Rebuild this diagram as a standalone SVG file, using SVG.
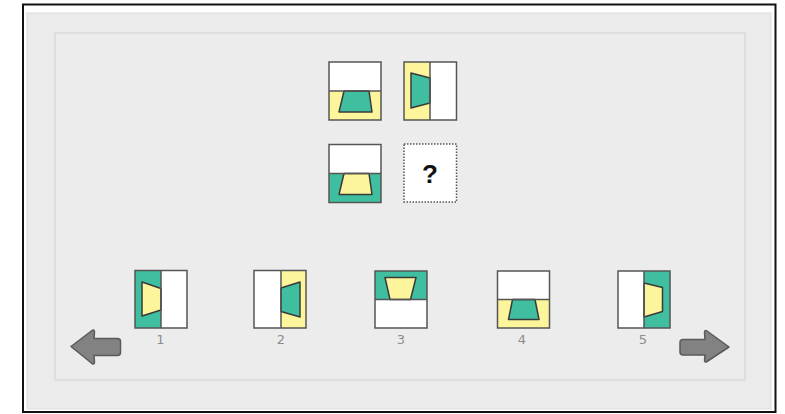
<svg xmlns="http://www.w3.org/2000/svg" width="785" height="414" viewBox="0 0 785 414">
<style>
.tile{stroke:#555;stroke-width:1.5;}
.w{fill:#ffffff;}
.t{fill:#3fbf9f;}
.y{fill:#fcf59b;}
.tz{stroke:#3a3a3a;stroke-width:1.5;stroke-linejoin:round;}
.div{stroke:#555;stroke-width:1.5;}
.lbl{font-family:"DejaVu Sans","Liberation Sans",sans-serif;font-size:13px;fill:#8c8c8c;text-anchor:middle;}
.arrow{fill:#828282;stroke:#5a5a5a;stroke-width:1.5;stroke-linejoin:round;}
</style>
<rect x="0" y="0" width="785" height="414" fill="#ffffff"/>
<rect x="23" y="4.5" width="752.5" height="407.5" fill="#ffffff" stroke="#111" stroke-width="2"/>
<rect x="27" y="13" width="744" height="396" fill="#ebebeb" stroke="#dcdcdc" stroke-width="1"/>
<rect x="55" y="33" width="690" height="347" fill="#ececec" stroke="#dadada" stroke-width="1.5"/>

<g id="q1">
<rect class="w" x="329" y="62" width="52" height="29"/>
<rect class="y" x="329" y="91" width="52" height="29"/>
<polygon class="t tz" points="344,91 369,91 372,112 339,112"/>
<line class="div" x1="329" y1="91" x2="381" y2="91"/>
<rect class="tile" x="329" y="62" width="52" height="58" fill="none"/>
</g>
<g id="q2">
<rect class="y" x="404" y="62" width="26" height="58"/>
<rect class="w" x="430" y="62" width="26.5" height="58"/>
<polygon class="t tz" points="411,73 430,78 430,103 411,108"/>
<line class="div" x1="430" y1="62" x2="430" y2="120"/>
<rect class="tile" x="404" y="62" width="52.5" height="58" fill="none"/>
</g>
<g id="q3">
<rect class="w" x="329" y="144.5" width="52" height="29"/>
<rect class="t" x="329" y="173.5" width="52" height="29"/>
<polygon class="y tz" points="344,173.5 369,173.5 372,194.5 339,194.5"/>
<line class="div" x1="329" y1="173.5" x2="381" y2="173.5"/>
<rect class="tile" x="329" y="144.5" width="52" height="58" fill="none"/>
</g>
<g id="q4">
<rect x="404" y="144" width="52.5" height="58" fill="#ffffff" stroke="#555" stroke-width="1.5" stroke-dasharray="1.5,1.5"/>
<text x="430" y="183" font-family="Liberation Sans,Arial,sans-serif" font-size="26" font-weight="bold" fill="#111" text-anchor="middle">?</text>
</g>

<g id="opt1">
<rect class="t" x="135" y="270.5" width="26" height="57.5"/>
<rect class="w" x="161" y="270.5" width="26" height="57.5"/>
<polygon class="y tz" points="142,282 161,288.5 161,310 142,316"/>
<line class="div" x1="161" y1="270.5" x2="161" y2="328"/>
<rect class="tile" x="135" y="270.5" width="52" height="57.5" fill="none"/>
<text class="lbl" x="160.5" y="344">1</text>
</g>
<g id="opt2">
<rect class="w" x="254" y="270.5" width="27" height="57.5"/>
<rect class="y" x="281" y="270.5" width="25" height="57.5"/>
<polygon class="t tz" points="281,288 300,282 300,317 281,311.5"/>
<line class="div" x1="281" y1="270.5" x2="281" y2="328"/>
<rect class="tile" x="254" y="270.5" width="52" height="57.5" fill="none"/>
<text class="lbl" x="281" y="344">2</text>
</g>
<g id="opt3">
<rect class="t" x="375" y="271" width="52" height="28.5"/>
<rect class="w" x="375" y="299.5" width="52" height="28.5"/>
<polygon class="y tz" points="385,277.5 416,277.5 410.5,299.5 390,299.5"/>
<line class="div" x1="375" y1="299.5" x2="427" y2="299.5"/>
<rect class="tile" x="375" y="271" width="52" height="57" fill="none"/>
<text class="lbl" x="401" y="344">3</text>
</g>
<g id="opt4">
<rect class="w" x="497.5" y="271" width="52" height="28.5"/>
<rect class="y" x="497.5" y="299.5" width="52" height="28.5"/>
<polygon class="t tz" points="512.5,299.5 535,299.5 539,319.5 508.5,319.5"/>
<line class="div" x1="497.5" y1="299.5" x2="549.5" y2="299.5"/>
<rect class="tile" x="497.5" y="271" width="52" height="57" fill="none"/>
<text class="lbl" x="522" y="344">4</text>
</g>
<g id="opt5">
<rect class="w" x="618" y="271" width="26" height="57"/>
<rect class="t" x="644" y="271" width="26" height="57"/>
<polygon class="y tz" points="644,283 662.5,287.5 662.5,311.5 644,317"/>
<line class="div" x1="644" y1="271" x2="644" y2="328"/>
<rect class="tile" x="618" y="271" width="52" height="57" fill="none"/>
<text class="lbl" x="643" y="344">5</text>
</g>

<g id="arrow-left">
<path class="arrow" d="M71,346.5 L92,330.5 Q94.5,329 94.5,332 L94,338.5 L117.5,338.5 Q120.5,338.5 120.5,341.5 L120.5,352.5 Q120.5,355.5 117.5,355.5 L94,355.5 L94.5,362 Q94.5,365 92,363.5 Z"/>
</g>
<g id="arrow-right">
<path class="arrow" d="M729,347 L707,331 Q704.5,329.5 704.5,332.5 L705,339.5 L683,339.5 Q680,339.5 680,342.5 L680,352 Q680,355 683,355 L705,355 L704.5,360 Q704.5,363 707,361.5 Z"/>
</g>
</svg>
